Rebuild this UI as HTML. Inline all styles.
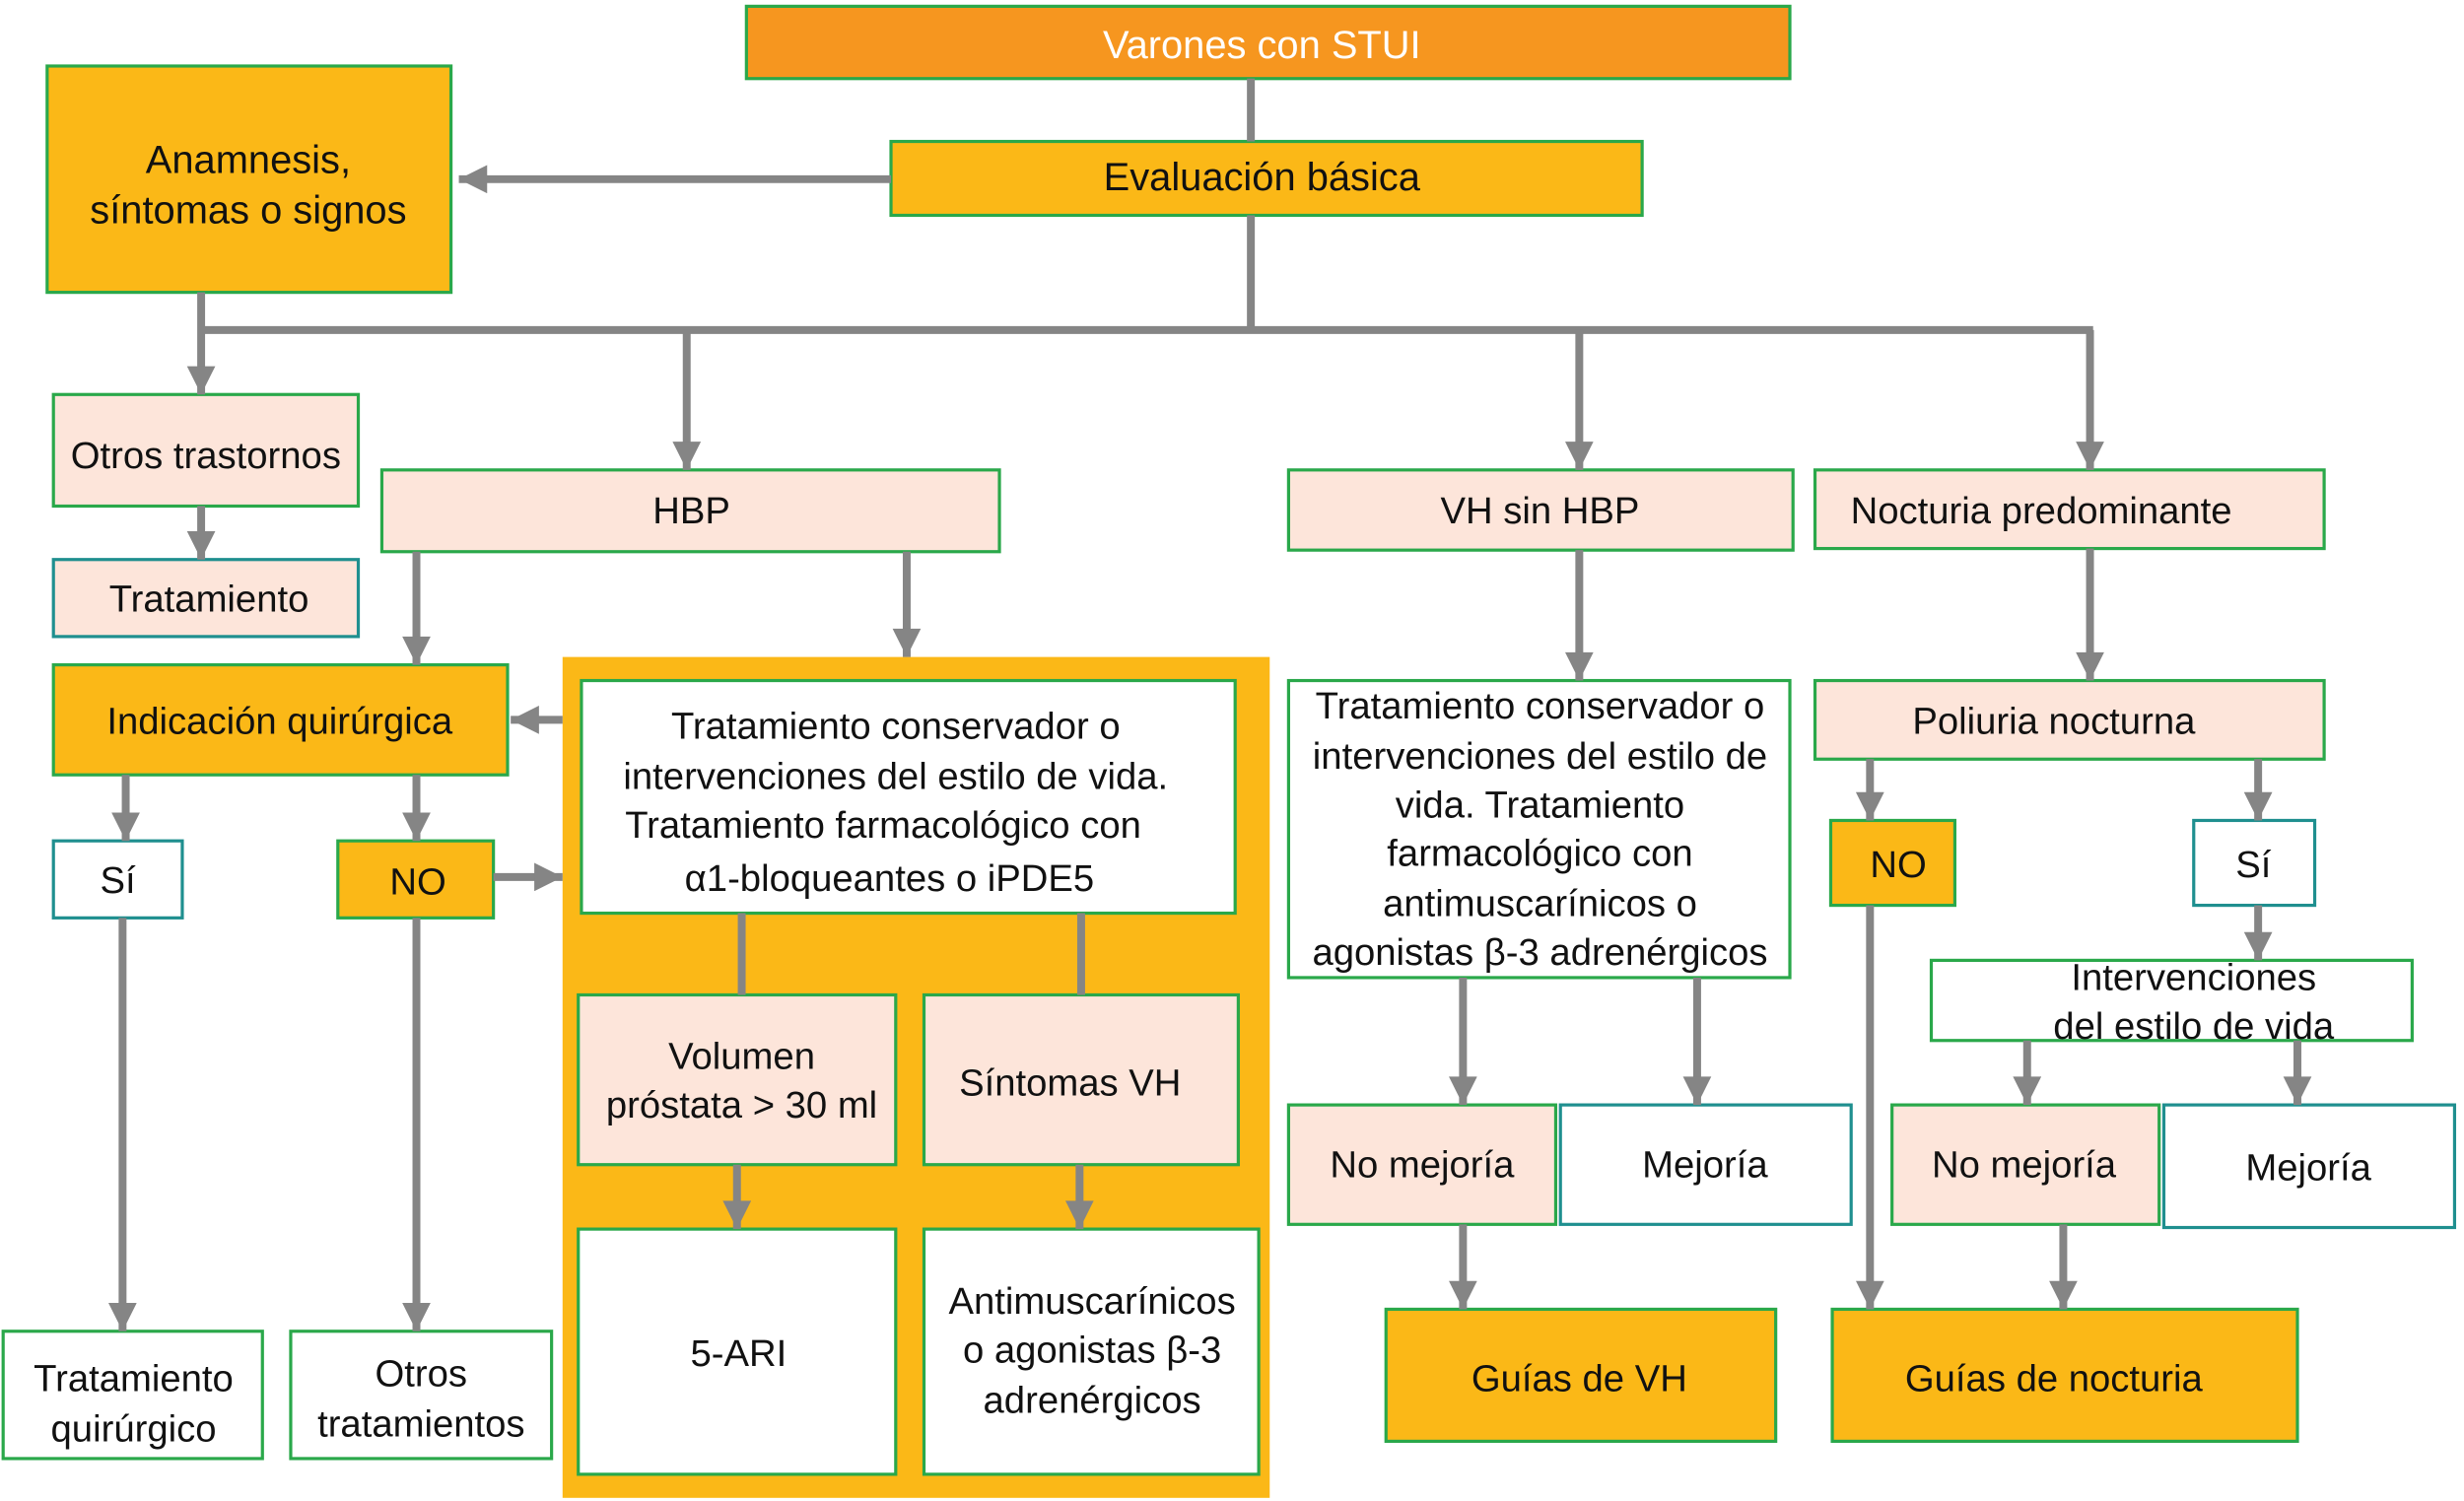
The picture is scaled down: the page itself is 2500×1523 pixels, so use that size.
<!DOCTYPE html>
<html><head><meta charset="utf-8"><style>
html,body{margin:0;padding:0;background:#fff;width:2500px;height:1523px;overflow:hidden}
svg text{font-family:"Liberation Sans",Arial,sans-serif;font-size:24px;fill:#111;text-anchor:middle}
</style></head><body>
<svg width="2500" height="1523" viewBox="0 0 1568 955" preserveAspectRatio="none" xmlns="http://www.w3.org/2000/svg">
<defs>
<marker id="a" viewBox="0 0 10 10" refX="10" refY="5" markerWidth="3.8" markerHeight="3.6" markerUnits="strokeWidth" orient="auto"><path d="M0,0 L10,5 L0,10 z" fill="#858585"/></marker>
</defs>
<g stroke="#2aa84a" stroke-width="2">
<rect x="475" y="4" width="664" height="46" fill="#f6961f"/>
<rect x="567" y="90" width="478" height="47" fill="#fbb817"/>
<rect x="30" y="42" width="257" height="144" fill="#fbb817"/>
<rect x="34" y="251" width="194" height="71" fill="#fde5da"/>
<rect x="34" y="356" width="194" height="49" fill="#fde5da" stroke="#1f8f8f"/>
<rect x="243" y="299" width="393" height="52" fill="#fde5da"/>
<rect x="820" y="299" width="321" height="51" fill="#fde5da"/>
<rect x="1155" y="299" width="324" height="50" fill="#fde5da"/>
<rect x="34" y="423" width="289" height="70" fill="#fbb817"/>
<rect x="358" y="418" width="450" height="535" fill="#fbb817" stroke="none"/>
<rect x="370" y="433" width="416" height="148" fill="#fff"/>
<rect x="368" y="633" width="202" height="108" fill="#fde5da"/>
<rect x="588" y="633" width="200" height="108" fill="#fde5da"/>
<rect x="368" y="782" width="202" height="156" fill="#fff"/>
<rect x="588" y="782" width="213" height="156" fill="#fff"/>
<rect x="34" y="535" width="82" height="49" fill="#fff" stroke="#1f8f8f"/>
<rect x="215" y="535" width="99" height="49" fill="#fbb817"/>
<rect x="2" y="847" width="165" height="81" fill="#fff"/>
<rect x="185" y="847" width="166" height="81" fill="#fff"/>
<rect x="820" y="433" width="319" height="189" fill="#fff"/>
<rect x="820" y="703" width="170" height="76" fill="#fde5da"/>
<rect x="993" y="703" width="185" height="76" fill="#fff" stroke="#1f8f8f"/>
<rect x="882" y="833" width="248" height="84" fill="#fbb817"/>
<rect x="1155" y="433" width="324" height="50" fill="#fde5da"/>
<rect x="1165" y="522" width="79" height="54" fill="#fbb817"/>
<rect x="1396" y="522" width="77" height="54" fill="#fff" stroke="#1f8f8f"/>
<rect x="1229" y="611" width="306" height="51" fill="#fff"/>
<rect x="1204" y="703" width="170" height="76" fill="#fde5da"/>
<rect x="1377" y="703" width="185" height="78" fill="#fff" stroke="#1f8f8f"/>
<rect x="1166" y="833" width="296" height="84" fill="#fbb817"/>
</g>
<g stroke="#858585" stroke-width="5" fill="none">
<line x1="796" y1="50" x2="796" y2="90"/>
<line x1="567" y1="114" x2="292" y2="114" marker-end="url(#a)"/>
<line x1="796" y1="137" x2="796" y2="210"/>
<line x1="128" y1="210" x2="1332" y2="210"/>
<line x1="128" y1="186" x2="128" y2="251" marker-end="url(#a)"/>
<line x1="437" y1="210" x2="437" y2="299" marker-end="url(#a)"/>
<line x1="1005" y1="210" x2="1005" y2="299" marker-end="url(#a)"/>
<line x1="1330" y1="210" x2="1330" y2="299" marker-end="url(#a)"/>
<line x1="128" y1="322" x2="128" y2="356" marker-end="url(#a)"/>
<line x1="265" y1="351" x2="265" y2="423" marker-end="url(#a)"/>
<line x1="577" y1="351" x2="577" y2="418" marker-end="url(#a)"/>
<line x1="358" y1="458" x2="325" y2="458" marker-end="url(#a)"/>
<line x1="80" y1="493" x2="80" y2="535" marker-end="url(#a)"/>
<line x1="265" y1="493" x2="265" y2="535" marker-end="url(#a)"/>
<line x1="78" y1="584" x2="78" y2="847" marker-end="url(#a)"/>
<line x1="265" y1="584" x2="265" y2="847" marker-end="url(#a)"/>
<line x1="314" y1="558" x2="358" y2="558" marker-end="url(#a)"/>
<line x1="472" y1="581" x2="472" y2="633"/>
<line x1="688" y1="581" x2="688" y2="633"/>
<line x1="469" y1="741" x2="469" y2="782" marker-end="url(#a)"/>
<line x1="687" y1="741" x2="687" y2="782" marker-end="url(#a)"/>
<line x1="1005" y1="350" x2="1005" y2="433" marker-end="url(#a)"/>
<line x1="931" y1="622" x2="931" y2="703" marker-end="url(#a)"/>
<line x1="1080" y1="622" x2="1080" y2="703" marker-end="url(#a)"/>
<line x1="931" y1="779" x2="931" y2="833" marker-end="url(#a)"/>
<line x1="1330" y1="349" x2="1330" y2="433" marker-end="url(#a)"/>
<line x1="1190" y1="483" x2="1190" y2="522" marker-end="url(#a)"/>
<line x1="1437" y1="483" x2="1437" y2="522" marker-end="url(#a)"/>
<line x1="1190" y1="576" x2="1190" y2="833" marker-end="url(#a)"/>
<line x1="1437" y1="576" x2="1437" y2="611" marker-end="url(#a)"/>
<line x1="1290" y1="662" x2="1290" y2="703" marker-end="url(#a)"/>
<line x1="1462" y1="662" x2="1462" y2="703" marker-end="url(#a)"/>
<line x1="1313" y1="779" x2="1313" y2="833" marker-end="url(#a)"/>
</g>
<text x="803" y="37" style="fill:#fff;font-size:25px">Varones con STUI</text>
<text x="803" y="121" style="font-size:25px">Evaluación básica</text>
<text x="158" y="110" style="font-size:25px">Anamnesis,</text>
<text x="158" y="142" style="font-size:25px">síntomas o signos</text>
<text x="131" y="298">Otros trastornos</text>
<text x="133" y="389">Tratamiento</text>
<text x="440" y="333">HBP</text>
<text x="980" y="333">VH sin HBP</text>
<text x="1299" y="333">Nocturia predominante</text>
<text x="178" y="467">Indicación quirúrgica</text>
<text x="570" y="470">Tratamiento conservador o</text>
<text x="570" y="502">intervenciones del estilo de vida.</text>
<text x="562" y="533">Tratamiento farmacológico con</text>
<text x="566" y="567">α1-bloqueantes o iPDE5</text>
<text x="472" y="680">Volumen</text>
<text x="472" y="711">próstata &gt; 30 ml</text>
<text x="681" y="697">Síntomas VH</text>
<text x="470" y="869">5-ARI</text>
<text x="695" y="836">Antimuscarínicos</text>
<text x="695" y="867">o agonistas β-3</text>
<text x="695" y="899">adrenérgicos</text>
<text x="75" y="568">Sí</text>
<text x="266" y="569">NO</text>
<text x="85" y="885">Tratamiento</text>
<text x="85" y="917">quirúrgico</text>
<text x="268" y="882">Otros</text>
<text x="268" y="914">tratamientos</text>
<text x="980" y="457">Tratamiento conservador o</text>
<text x="980" y="489">intervenciones del estilo de</text>
<text x="980" y="520">vida. Tratamiento</text>
<text x="980" y="551">farmacológico con</text>
<text x="980" y="583">antimuscarínicos o</text>
<text x="980" y="614">agonistas β-3 adrenérgicos</text>
<text x="905" y="749">No mejoría</text>
<text x="1085" y="749">Mejoría</text>
<text x="1005" y="885">Guías de VH</text>
<text x="1307" y="467">Poliuria nocturna</text>
<text x="1208" y="558">NO</text>
<text x="1434" y="558">Sí</text>
<text x="1396" y="630">Intervenciones</text>
<text x="1396" y="661">del estilo de vida</text>
<text x="1288" y="749">No mejoría</text>
<text x="1469" y="751">Mejoría</text>
<text x="1307" y="885">Guías de nocturia</text>
</svg>
</body></html>
